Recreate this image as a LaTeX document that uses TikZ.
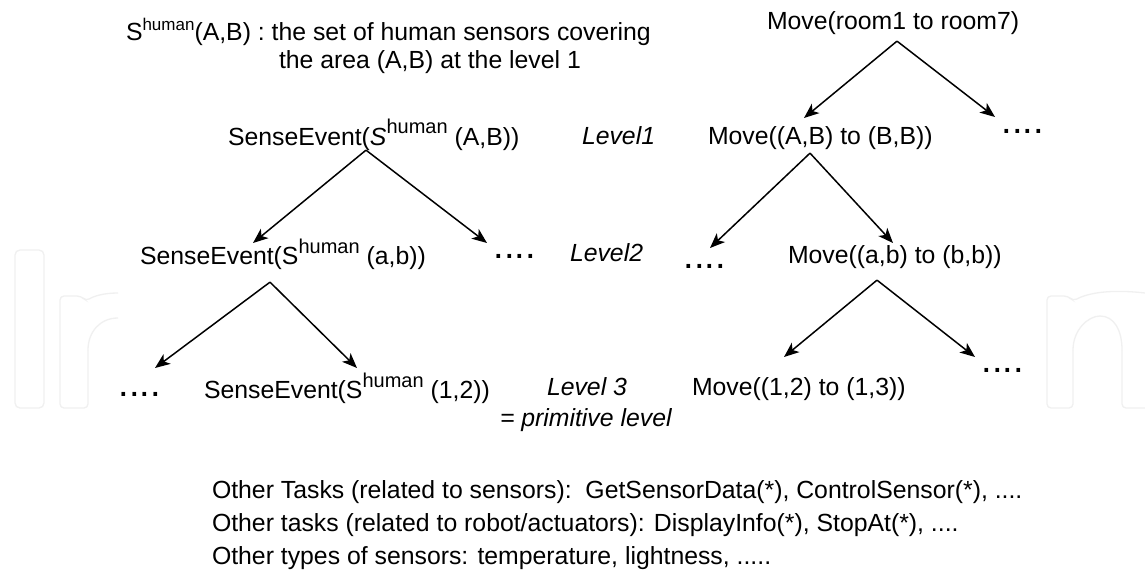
\documentclass[tikz,border=0pt]{standalone}
\usepackage{fontspec}
\setmainfont{Liberation Sans}
\usetikzlibrary{arrows.meta,calc}
\newcommand{\hsup}[1]{\raisebox{11pt}{\fontsize{20}{20}\selectfont #1}}
\newcommand{\hsupsmall}[1]{\raisebox{10pt}{\fontsize{17}{17}\selectfont #1}}
\begin{document}
\begin{tikzpicture}[x=1pt,y=-1pt,
  txt/.style={inner sep=0pt, outer sep=0pt, anchor=base west, font=\fontsize{24.8}{29}\selectfont},
  lvl/.style={inner sep=0pt, outer sep=0pt, anchor=base west, font=\fontsize{24.8}{29}\selectfont\itshape},
  dotrow/.style={inner sep=0pt, outer sep=0pt, anchor=base west, font=\fontsize{38}{40}\selectfont},
  arr/.style={line width=1.5pt, -{Stealth[length=15pt,width=12pt,inset=4pt]}},
  wm/.style={draw=black!6, line width=1.3pt}]
\fill[white] (0,0) rectangle (1145,583);
\useasboundingbox (0,0) rectangle (1145,583);
% faint watermark
\draw[wm, rounded corners=5pt] (15,250) rectangle (44,408);
\draw[wm, rounded corners=4pt] (118,293) .. controls (104,293) and (94,296) .. (86,301) -- (81,296) -- (60,296) -- (60,408) -- (88,408) -- (88,350);
\draw[wm] (88,350) .. controls (88,332) and (100,318) .. (118,318);
\draw[wm, rounded corners=4pt] (1145,293) .. controls (1110,289) and (1088,293) .. (1073,301) -- (1068,296) -- (1047,296) -- (1047,408) -- (1073,408) -- (1073,350);
\draw[wm] (1073,350) .. controls (1073,330) and (1088,316) .. (1100,316) .. controls (1114,316) and (1122,330) .. (1122,350);
\draw[wm, rounded corners=4pt] (1122,350) -- (1122,408) -- (1145,408);
% definition text
\node[txt] (def1) at (126,41) {S\hsupsmall{human}(A,B) : the set of human sensors covering};
\node[txt] (def2) at (279,69) {the area (A,B) at the level 1};
% left tree
\node[txt] (lA) at (228,145) {SenseEvent({\itshape S}\hsup{human} (A,B))};
\node[txt] (la) at (140,264) {SenseEvent(S\hsup{human} (a,b))};
\node[dotrow] (ldots2) at (493.5,258) {....};
\node[dotrow] (ldots3) at (118.5,396) {....};
\node[txt] (l12) at (204,398) {SenseEvent(S\hsup{human} (1,2))};
% level labels
\node[lvl] (lev1) at (582,144) {Level1};
\node[lvl] (lev2) at (570,261) {Level2};
\node[lvl] (lev3) at (547,395) {Level 3};
\node[lvl] (prim) at (500,426) {= primitive level};
% right tree
\node[txt] (r0) at (767,30) {Move(room1 to room7)};
\node[txt] (r1) at (708,144) {Move((A,B) to (B,B))};
\node[dotrow] (rdots1) at (1001.5,133) {....};
\node[dotrow] (rdots2) at (683.5,268) {....};
\node[txt] (r2) at (788,263) {Move((a,b) to (b,b))};
\node[txt] (r3) at (692,395) {Move((1,2) to (1,3))};
\node[dotrow] (rdots3) at (981.5,372) {....};
% bottom notes
\node[txt] (n1) at (212,498) {Other Tasks (related to sensors):\ \ GetSensorData(*), ControlSensor(*), ....};
\node[txt] (n2) at (212,531) {Other tasks (related to robot/actuators): DisplayInfo(*), StopAt(*), ....};
\node[txt] (n3) at (212,564) {Other types of sensors: temperature, lightness, .....};
% arrow end points
\coordinate (tA1) at (253,243);
\coordinate (tA2) at (487,243);
\coordinate (ta1) at (155,368);
\coordinate (ta2) at (357,368);
\coordinate (tR01) at (804,118);
\coordinate (tR02) at (995,117);
\coordinate (tR11) at (710,248);
\coordinate (tR12) at (893,243);
\coordinate (tR21) at (784,357);
\coordinate (tR22) at (975,357);
% arrows
\draw[arr] ($(lA.south west)+(138,0)$) -- (tA1);
\draw[arr] ($(lA.south west)+(138,0)$) -- (tA2);
\draw[arr] ($(la.south west)+(130,13)$) -- (ta1);
\draw[arr] ($(la.south west)+(130,13)$) -- (ta2);
\draw[arr] ($(r0.south west)+(130,6)$) -- (tR01);
\draw[arr] ($(r0.south west)+(130,6)$) -- (tR02);
\draw[arr] ($(r1.south west)+(102,4)$) -- (tR11);
\draw[arr] ($(r1.south west)+(102,4)$) -- (tR12);
\draw[arr] ($(r2.south west)+(89,12)$) -- (tR21);
\draw[arr] ($(r2.south west)+(89,12)$) -- (tR22);
\end{tikzpicture}
\end{document}
